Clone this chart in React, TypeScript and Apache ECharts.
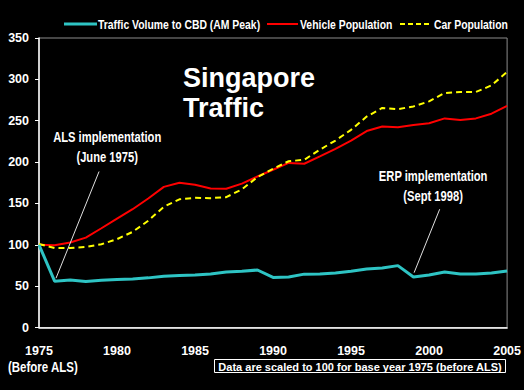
import React, { useEffect, useRef } from "react";
import * as echarts from "echarts";

const years = [1975, 1976, 1977, 1978, 1979, 1980, 1981, 1982, 1983, 1984, 1985, 1986, 1987, 1988, 1989, 1990, 1991, 1992, 1993, 1994, 1995, 1996, 1997, 1998, 1999, 2000, 2001, 2002, 2003, 2004, 2005];
const trafficVolume = [100, 56, 57.5, 55.5, 57, 58, 58.7, 60, 62, 63, 63.5, 64.7, 67, 68, 69.5, 60.5, 61, 64.5, 64.8, 66, 68, 70.8, 72, 74.8, 61, 63.5, 67, 64.8, 64.8, 66, 68.4];
const vehiclePopulation = [100, 99.5, 102.7, 108.7, 120, 131.7, 143, 156, 170, 175, 172.5, 168, 167.7, 174, 182.6, 190.7, 199, 198, 206.8, 216, 226, 237.5, 243, 242, 244.8, 247, 252.8, 251, 252.8, 258.5, 268];
const carPopulation = [101, 96, 96, 97.5, 100.7, 106.8, 115.6, 129, 146, 155, 156.8, 156.4, 157.6, 167, 181.8, 191.9, 201, 202.8, 215, 226, 239, 255, 265.4, 264, 267.3, 273.4, 283.5, 284.7, 284.7, 292.7, 309];
const seriesNames = ["Traffic Volume to CBD (AM Peak)", "Vehicle Population", "Car Population"];
const seriesColors = ["#2ec4c4", "#ff0000", "#ffff00"];
const titleLines = ["Singapore", "Traffic"];
const annotations = [
  { lines: ["ALS implementation", "(June 1975)"], text: [1979.37, 230], from: [1978.85, 188.6], to: [1976.09, 59.6] },
  { lines: ["ERP implementation", "(Sept 1998)"], text: [2000.26, 182.6], from: [2000.68, 143], to: [1999.04, 66.3] },
];
const baseNote = "(Before ALS)";
const footnote = "Data are scaled to 100 for base year 1975 (before ALS)";

const SANS = "'Liberation Sans', Arial, sans-serif";
const NARROW_SCALE = 0.8;

const pair = (vals: number[]) => years.map((y, i) => [y, vals[i]]);

export default function App() {
  const ref = useRef<HTMLDivElement>(null);
  useEffect(() => {
    if (!ref.current) return;
    const chart = echarts.init(ref.current, null, { renderer: "svg" });
    chart.setOption({
      animation: false,
      backgroundColor: "#000000",
      grid: {
        left: 39,
        right: 15,
        top: 38,
        bottom: 62.5,
        show: true,
        borderColor: "#8c8c8c",
        borderWidth: 1,
        backgroundColor: "transparent",
      },
      xAxis: {
        type: "value",
        min: 1975,
        max: 2005,
        interval: 5,
        axisLine: { show: true, lineStyle: { color: "#ffffff", width: 1.5 } },
        axisTick: { show: false },
        splitLine: { show: false },
        axisLabel: {
          color: "#ffffff",
          fontFamily: SANS,
          fontWeight: "bold",
          fontSize: 12.5,
          margin: 17,
          formatter: (v: number) => String(v),
        },
      },
      yAxis: {
        type: "value",
        min: 0,
        max: 350,
        interval: 50,
        axisLine: { show: true, lineStyle: { color: "#ffffff", width: 1.5 } },
        axisTick: { show: true, length: 4, lineStyle: { color: "#ffffff" } },
        splitLine: { show: false },
        axisLabel: { color: "#ffffff", fontFamily: SANS, fontWeight: "bold", fontSize: 12.5, margin: 10 },
      },
      series: [
        {
          name: seriesNames[0],
          type: "line",
          data: pair(trafficVolume),
          symbol: "none",
          lineStyle: { color: seriesColors[0], width: 3 },
          itemStyle: { color: seriesColors[0] },
          z: 3,
        },
        {
          name: seriesNames[1],
          type: "line",
          data: pair(vehiclePopulation),
          symbol: "none",
          lineStyle: { color: seriesColors[1], width: 2 },
          itemStyle: { color: seriesColors[1] },
          z: 2,
        },
        {
          name: seriesNames[2],
          type: "line",
          data: pair(carPopulation),
          symbol: "none",
          lineStyle: { color: seriesColors[2], width: 2, type: [6, 4] },
          itemStyle: { color: seriesColors[2] },
          z: 2,
        },
      ],
    });

    const px = (v: number[]) => chart.convertToPixel({ gridIndex: 0 }, v) as number[];
    const graphics: any[] = [];

    // legend
    const legendItems = [
      { x1: 64, x2: 97, tx: 98, w: 3, dash: null as any },
      { x1: 267, x2: 298, tx: 300, w: 2, dash: null as any },
      { x1: 400, x2: 432, tx: 434, w: 2, dash: [5, 3] },
    ];
    legendItems.forEach((it, i) => {
      graphics.push({
        type: "line",
        shape: { x1: it.x1, y1: 24, x2: it.x2, y2: 24 },
        style: { stroke: seriesColors[i], lineWidth: it.w, lineDash: it.dash },
        z: 10,
      });
      graphics.push({
        type: "text",
        x: it.tx,
        y: 24,
        scaleX: NARROW_SCALE,
        style: { text: seriesNames[i], fill: "#ffffff", font: `bold 13px ${SANS}`, verticalAlign: "middle" },
        z: 10,
      });
    });

    titleLines.forEach((t, i) => {
      graphics.push({
        type: "text",
        x: 183,
        y: 64 + i * 30,
        style: { text: t, fill: "#ffffff", font: `bold 27px ${SANS}` },
        z: 10,
      });
    });
    annotations.forEach((a) => {
      const tp = px(a.text);
      const f = px(a.from);
      const t = px(a.to);
      a.lines.forEach((l, i) => {
        graphics.push({
          type: "text",
          x: tp[0],
          y: tp[1] + i * 20,
          scaleX: NARROW_SCALE,
          style: { text: l, fill: "#ffffff", font: `bold 14px ${SANS}`, align: "center", verticalAlign: "middle" },
          z: 10,
        });
      });
      graphics.push({
        type: "line",
        shape: { x1: f[0], y1: f[1], x2: t[0], y2: t[1] },
        style: { stroke: "#e0e0e0", lineWidth: 1 },
        z: 10,
      });
    });
    graphics.push({
      type: "text",
      x: 8,
      y: 367,
      scaleX: 0.82,
      style: { text: baseNote, fill: "#ffffff", font: `bold 14px ${SANS}`, verticalAlign: "middle" },
      z: 10,
    });
    graphics.push({
      type: "rect",
      shape: { x: 214.5, y: 359.5, width: 291, height: 13 },
      style: { fill: "none", stroke: "#ffffff", lineWidth: 1 },
      z: 10,
    });
    graphics.push({
      type: "text",
      x: 360,
      y: 366.5,
      style: { text: footnote, fill: "#ffffff", font: `bold 11px ${SANS}`, align: "center", verticalAlign: "middle" },
      z: 10,
    });
    chart.setOption({ graphic: graphics });

    return () => chart.dispose();
  }, []);
  return (
    <div
      ref={ref}
      style={{ position: "fixed", left: 0, top: 0, width: 524, height: 390, background: "#000" }}
    />
  );
}
